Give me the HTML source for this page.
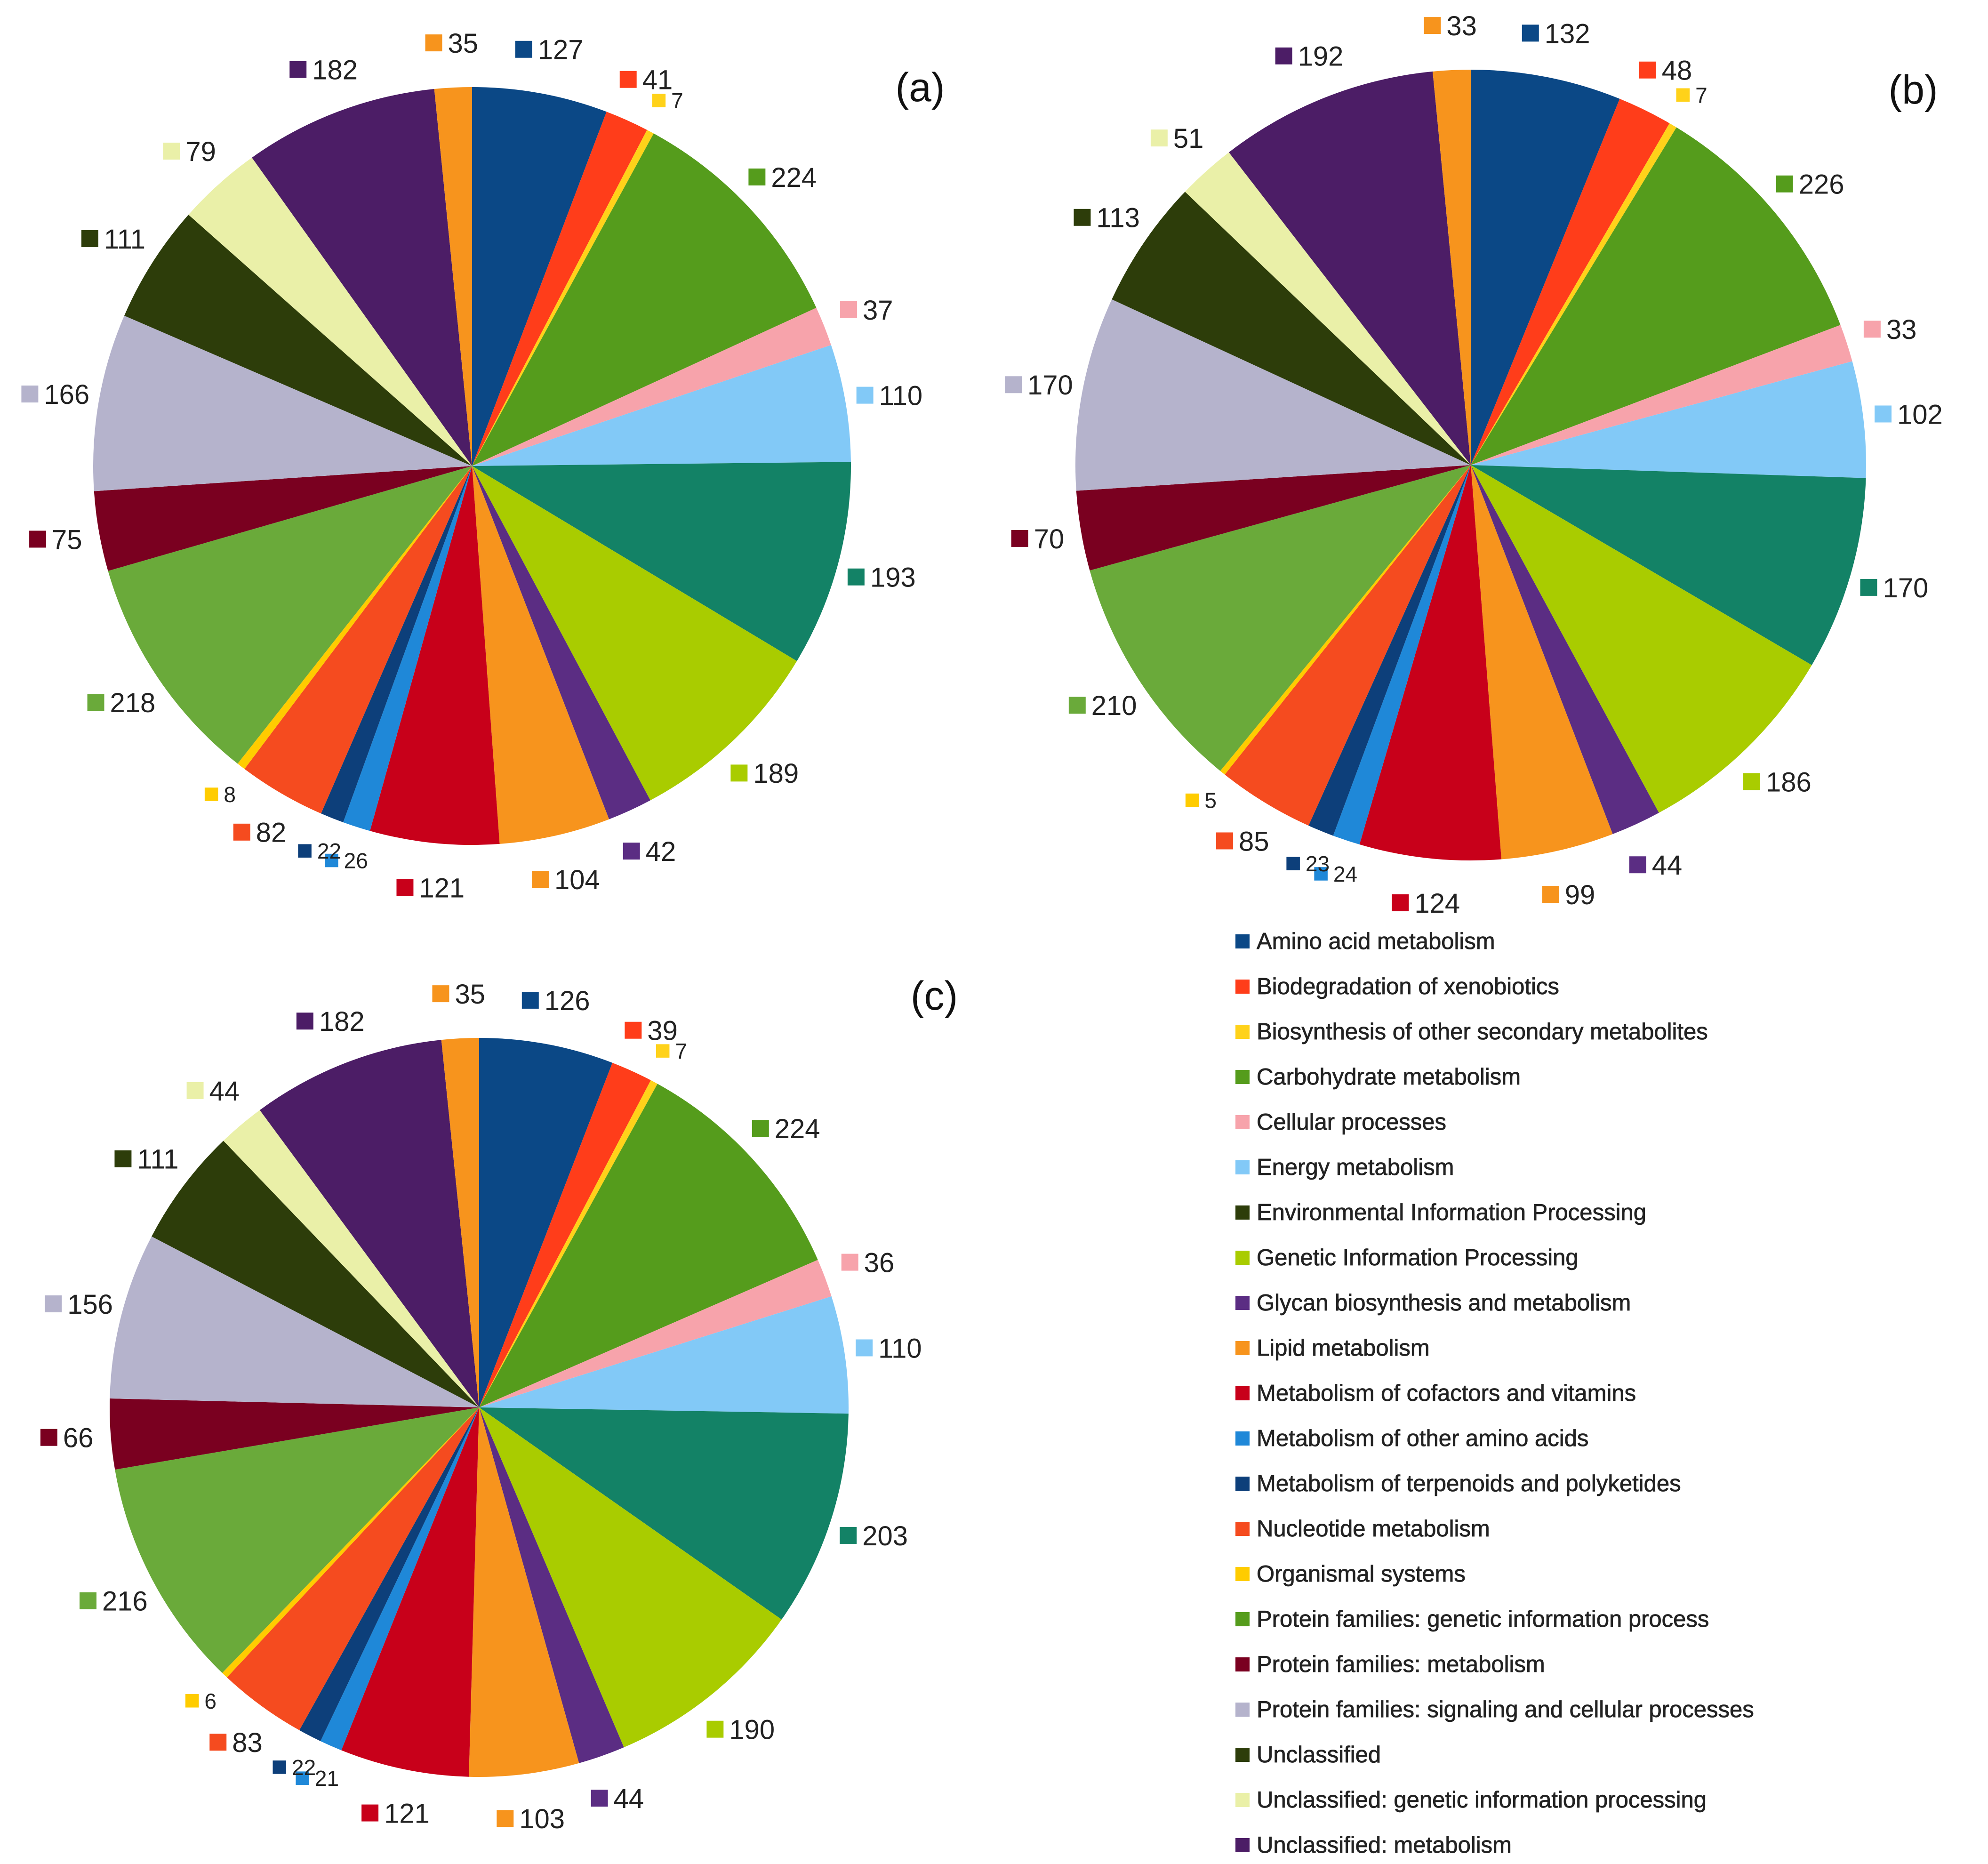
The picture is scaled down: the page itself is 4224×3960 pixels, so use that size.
<!DOCTYPE html>
<html><head><meta charset="utf-8"><style>
html,body{margin:0;padding:0;background:#fff}
svg{display:block}
text{font-family:"Liberation Sans",Arial,sans-serif}
</style></head><body>
<svg id="chart" width="4224" height="3960" viewBox="0 0 4224 3960" xmlns="http://www.w3.org/2000/svg">
<g id="pies"></g>
<g id="legend"></g>
</svg>
<script>
const categories = ["Amino acid metabolism","Biodegradation of xenobiotics","Biosynthesis of other secondary metabolites","Carbohydrate metabolism","Cellular processes","Energy metabolism","Environmental Information Processing","Genetic Information Processing","Glycan biosynthesis and metabolism","Lipid metabolism","Metabolism of cofactors and vitamins","Metabolism of other amino acids","Metabolism of terpenoids and polyketides","Nucleotide metabolism","Organismal systems","Protein families: genetic information process","Protein families: metabolism","Protein families: signaling and cellular processes","Unclassified","Unclassified: genetic information processing","Unclassified: metabolism","Unclassified: signaling"];
const valuesA = [127,41,7,224,37,110,193,189,42,104,121,26,22,82,8,218,75,166,111,79,182,35];
const valuesB = [132,48,7,226,33,102,170,186,44,99,124,24,23,85,5,210,70,170,113,51,192,33];
const valuesC = [126,39,7,224,36,110,203,190,44,103,121,21,22,83,6,216,66,156,111,44,182,35];
const sliceColors = ["#0b4886","#ff3d1a","#ffd21a","#559c1c","#f7a3ab","#82c9f7","#138266","#a9cc00","#5b2d83","#f7941d","#c8001a","#1f88d8","#0d3f7a","#f54b1f","#ffcc00","#6aaa3a","#7a0020","#b5b3cc","#2d3d0a","#eaf0a8","#4c1d66","#f7941d"];
const legendColors = ["#0b4886","#ff3d1a","#ffd21a","#559c1c","#f7a3ab","#82c9f7","#2d3d0a","#a9cc00","#5b2d83","#f7941d","#c8001a","#1f88d8","#0d3f7a","#f54b1f","#ffcc00","#559c1c","#7a0020","#b5b3cc","#2d3d0a","#eaf0a8","#4c1d66"];
const NS="http://www.w3.org/2000/svg";
function mk(tag,attrs,parent){const e=document.createElementNS(NS,tag);for(const k in attrs)e.setAttribute(k,attrs[k]);parent.appendChild(e);return e;}
const pies=[
 {vals:valuesA,cx:1003,cy:990,r:805,tag:"(a)",tx:1955,ty:215,name:"pie-a"},
 {vals:valuesB,cx:3125,cy:988,r:840,tag:"(b)",tx:4065,ty:220,name:"pie-b"},
 {vals:valuesC,cx:1018,cy:2990,r:785,tag:"(c)",tx:1985,ty:2145,name:"pie-c"}
];
const root=document.getElementById('pies');
pies.forEach(p=>{
 const g=mk('g',{},root);
 
 
 const total=p.vals.reduce((a,b)=>a+b,0);
 let acc=0;
 p.vals.forEach((v,i)=>{
  const a0=acc/total*2*Math.PI; acc+=v; const a1=acc/total*2*Math.PI;
  const x0=p.cx+p.r*Math.sin(a0), y0=p.cy-p.r*Math.cos(a0);
  const x1=p.cx+p.r*Math.sin(a1), y1=p.cy-p.r*Math.cos(a1);
  const large=(a1-a0)>Math.PI?1:0;
  const path=mk('path',{d:`M${p.cx},${p.cy}L${x0},${y0}A${p.r},${p.r} 0 ${large} 1 ${x1},${y1}Z`,fill:sliceColors[i]},g);
  
  
  const am=(a0+a1)/2; const small=v<30;
  const lr=p.r+(small?75:95);
  const lx=p.cx+lr*Math.sin(am), ly=p.cy-lr*Math.cos(am);
  const fs=small?46:58;
  const lg=mk('g',{},g);
  
  
  const w=fs*0.56*String(v).length+fs*0.55+12;
  const sx=lx-w/2, sz=fs*0.62;
  mk('rect',{x:sx,y:ly-sz/2,width:sz,height:sz,fill:sliceColors[i]},lg);
  const t=mk('text',{x:sx+sz+12,y:ly+fs*0.36,'font-size':fs,fill:'#222'},lg);
  t.textContent=v;
 });
 const tt=mk('text',{x:p.tx,y:p.ty,'font-size':86,'text-anchor':'middle',fill:'#111'},g);
 
 
 tt.textContent=p.tag;
});
const lgRoot=document.getElementById('legend');
legendColors.forEach((c,i)=>{
 const y=2000+i*96;
 const e=mk('g',{},lgRoot);
 
 
 mk('rect',{x:2625,y:y-15,width:30,height:30,fill:c},e);
 const t=mk('text',{x:2670,y:y+16,'font-size':49,fill:'#222',stroke:'#222','stroke-width':0.8},e);
 t.textContent=categories[i];
});
</script>
</body></html>
